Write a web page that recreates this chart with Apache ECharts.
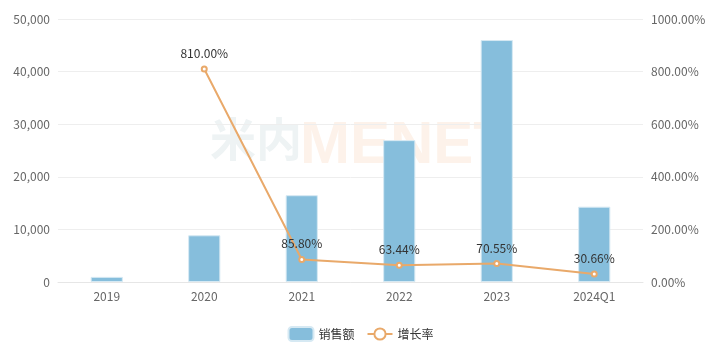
<!DOCTYPE html>
<html><head><meta charset="utf-8">
<script src="https://cdn.jsdelivr.net/npm/echarts@6/dist/echarts.min.js"></script>
<style>html,body{margin:0;padding:0;background:#fff}#c{width:721px;height:353px}</style>
</head><body><div id="c"></div>
<script>
const categories = ['2019','2020','2021','2022','2023','2024Q1'];
const sales = [975, 8880, 16500, 26970, 46000, 14320];
const growth = [null, 810.00, 85.80, 63.44, 70.55, 30.66];
const leftTicks = [0, 10000, 20000, 30000, 40000, 50000];
const rightTicks = [0, 200, 400, 600, 800, 1000];

const chart = echarts.init(document.getElementById('c'));
const FONT = '"Noto Sans CJK SC", "Noto Sans", sans-serif';
chart.setOption({
  animation: false,
  textStyle: {fontFamily: FONT},
  graphic: [
    {type:'text', left: 210, top: 116, z: -1, style:{text:'米内', fontSize: 46, fontWeight:'bold', fontFamily: FONT, fill:'#eef3f4'}},
    {type:'text', left: 300, top: 116, z: -1, style:{text:'MENET', fontSize: 60, fontWeight:'bold', fontFamily:'"Liberation Sans Narrow", Arial, sans-serif', fill:'#fdf2ea'}}
  ],
  grid: {left: 58, right: 78, top: 19, bottom: 71},
  legend: {
    bottom: 6, left: 'center', itemGap: 12, itemWidth: 25, itemHeight: 14,
    textStyle: {color: '#333', fontSize: 12},
    data: [{name:'销售额', icon:'roundRect'}, {name:'增长率'}]
  },
  xAxis: {
    type: 'category', data: categories,
    axisTick: {show: false},
    axisLine: {lineStyle: {color: '#e6e6e6'}},
    axisLabel: {color: '#666', fontSize: 12, margin: 8}
  },
  yAxis: [
    {type:'value', min: leftTicks[0], max: leftTicks[leftTicks.length-1], interval: 10000,
     axisLabel: {color:'#666', fontSize: 12, formatter: v => v.toLocaleString('en-US')},
     splitLine: {lineStyle: {color:'#eeeeee'}}, axisLine:{show:false}, axisTick:{show:false}},
    {type:'value', min: rightTicks[0], max: rightTicks[rightTicks.length-1], interval: 200,
     axisLabel: {color:'#666', fontSize: 12, formatter: v => v.toFixed(2) + '%'},
     splitLine: {show:false}, axisLine:{show:false}, axisTick:{show:false}}
  ],
  series: [
    {name:'销售额', type:'bar', data: sales, barWidth: '33%', yAxisIndex: 0,
     itemStyle: {color:'#86bedc', borderColor:'#d6e9f3', borderWidth: 1}},
    {name:'增长率', type:'line', data: growth, yAxisIndex: 1,
     symbol:'emptyCircle', symbolSize: 5, connectNulls: false,
     lineStyle: {color:'#e9a96a', width: 2},
     itemStyle: {color:'#e9a96a'},
     label: {show: true, position: 'top', distance: 6, color:'#333', fontSize: 12,
             formatter: p => p.value == null ? '' : p.value.toFixed(2) + '%'}}
  ]
});
</script></body></html>
